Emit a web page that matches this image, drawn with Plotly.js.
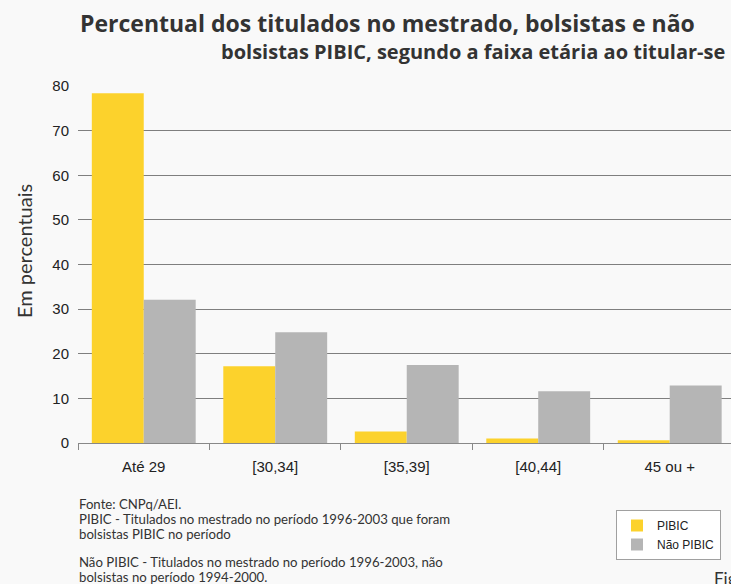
<!DOCTYPE html>
<html>
<head>
<meta charset="utf-8">
<script src="https://cdn.plot.ly/plotly-3.0.1.min.js"></script>
<style>html,body{margin:0;padding:0;background:#f9f9f9;}#chart{width:731px;height:584px;}</style>
</head>
<body>
<div id="chart"></div>
<script>
const categories = ["Até 29", "[30,34]", "[35,39]", "[40,44]", "45 ou +"];
const pibic = [78.4, 17.2, 2.6, 1.0, 0.6];
const naoPibic = [32.1, 24.8, 17.5, 11.6, 12.9];
const yTicks = [0, 10, 20, 30, 40, 50, 60, 70, 80];
const footLines = [
  "Fonte: CNPq/AEI.",
  "PIBIC - Titulados no mestrado no período 1996-2003 que foram",
  "bolsistas PIBIC no período",
  "Não PIBIC - Titulados no mestrado no período 1996-2003, não",
  "bolsistas no período 1994-2000."
];
const footY = [504, 519, 534, 562, 577];

const W = 731, H = 584;
const L = 78, T = 86, B = 443;          // plot area in pixels
const px = v => (v - L) / (W - L);
const py = v => (B - v) / (B - T);

const traces = [
  {type: "bar", name: "PIBIC", x: categories, y: pibic, marker: {color: "#fcd22c"}},
  {type: "bar", name: "Não PIBIC", x: categories, y: naoPibic, marker: {color: "#b5b5b5"}}
];

const annotations = [
  {text: "Percentual dos titulados no mestrado, bolsistas e não",
   x: px(387), y: py(23), xanchor: "center", yanchor: "middle",
   font: {family: "Open Sans", size: 23, color: "#333333", weight: 700}},
  {text: "bolsistas PIBIC, segundo a faixa etária ao titular-se",
   x: px(727), y: py(52), xanchor: "right", yanchor: "middle",
   font: {family: "Open Sans", size: 20, color: "#333333", weight: 700}},
  {text: "Em percentuais", x: px(24), y: py(251),
   xanchor: "center", yanchor: "middle", textangle: -90,
   font: {family: "Lato", size: 20, color: "#333333"}},
  {text: "Figura", x: px(712), y: py(578),
   xanchor: "left", yanchor: "middle",
   font: {family: "Lato", size: 17, color: "#333333"}}
];
footLines.forEach((t, i) => annotations.push({
  text: t, x: px(77), y: py(footY[i]),
  xanchor: "left", yanchor: "middle",
  font: {family: "Lato", size: 13.2, color: "#333333"}
}));
annotations.forEach(a => { a.xref = "paper"; a.yref = "paper"; a.showarrow = false; });

const layout = {
  width: W, height: H,
  paper_bgcolor: "#f9f9f9", plot_bgcolor: "#f9f9f9",
  margin: {l: L, r: 0, t: T, b: H - B, autoexpand: false},
  barmode: "group", bargap: 0.21, bargroupgap: 0,
  showlegend: true,
  legend: {x: px(616), y: py(510),
           xanchor: "left", yanchor: "top", bgcolor: "#ffffff", bordercolor: "#a0a0a0",
           borderwidth: 1, font: {family: "Liberation Sans", size: 12, color: "#222"},
           itemwidth: 30, tracegroupgap: 2},
  xaxis: {type: "category", range: [-0.5, 4.466], showline: true, linecolor: "#888888",
          linewidth: 1, ticks: "outside", tickson: "boundaries", ticklen: 6, tickcolor: "#888888",
          ticklabelstandoff: 10,
          tickfont: {family: "Liberation Sans", size: 15, color: "#222"}, showgrid: false,
          zeroline: false, fixedrange: true, automargin: false},
  yaxis: {range: [0, 80], tickvals: yTicks, ticktext: yTicks.map(String),
          showgrid: true, gridcolor: "#7f7f7f", gridwidth: 1, zeroline: false, showline: false,
          ticks: "", ticklabelstandoff: 8, automargin: false,
          tickfont: {family: "Liberation Sans", size: 15, color: "#222"}, fixedrange: true},
  annotations: annotations
};

Plotly.newPlot("chart", traces, layout, {displayModeBar: false, staticPlot: true});
</script>
</body>
</html>
